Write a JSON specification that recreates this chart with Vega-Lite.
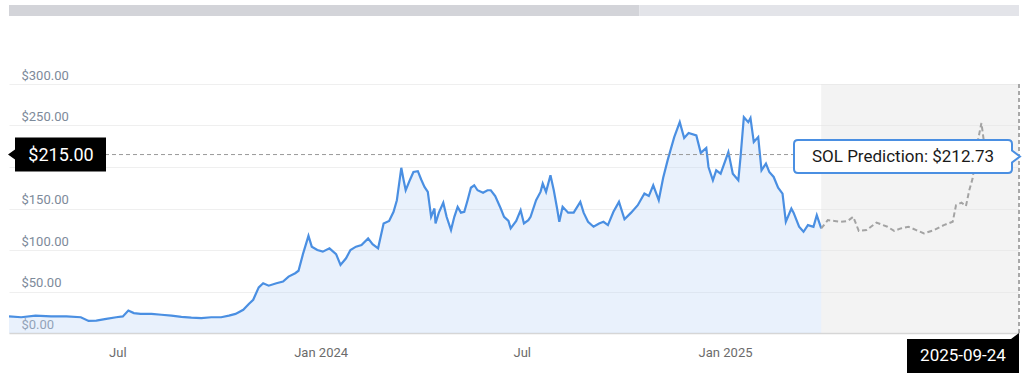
{
  "$schema": "https://vega.github.io/schema/vega-lite/v6.json",
  "usermeta": {"embedOptions": {"actions": false}},
  "padding": {"left": 4, "top": 5, "right": 0, "bottom": 0},
  "background": "white",
  "config": {"view": {"stroke": null}, "font": "Roboto"},
  "bounds": "flush",
  "spacing": 68,
  "datasets": {
    "nav": [
      {"part": "window", "from": 0, "to": 0.624},
      {"part": "rest", "from": 0.624, "to": 1}
    ],
    "hist": [
      {"date":"2023-03-25","price":20},{"date":"2023-04-05","price":19},{"date":"2023-04-18","price":21},{"date":"2023-05-02","price":20},
      {"date":"2023-05-16","price":20},{"date":"2023-05-29","price":19},{"date":"2023-06-05","price":14.5},{"date":"2023-06-12","price":15},
      {"date":"2023-06-21","price":17},{"date":"2023-06-30","price":19},{"date":"2023-07-06","price":20},{"date":"2023-07-11","price":27},
      {"date":"2023-07-16","price":24},{"date":"2023-07-22","price":23},{"date":"2023-08-01","price":23},{"date":"2023-08-10","price":22},
      {"date":"2023-08-19","price":21},{"date":"2023-08-28","price":19.5},{"date":"2023-09-06","price":18.5},{"date":"2023-09-15","price":18},
      {"date":"2023-09-24","price":19},{"date":"2023-10-03","price":19},{"date":"2023-10-10","price":21},{"date":"2023-10-16","price":23},
      {"date":"2023-10-23","price":28},{"date":"2023-10-28","price":35},{"date":"2023-11-01","price":40},{"date":"2023-11-06","price":55},
      {"date":"2023-11-10","price":60},{"date":"2023-11-15","price":57},{"date":"2023-11-22","price":60},{"date":"2023-11-28","price":62},
      {"date":"2023-12-03","price":68},{"date":"2023-12-09","price":72},{"date":"2023-12-12","price":75},{"date":"2023-12-16","price":95},
      {"date":"2023-12-21","price":117},{"date":"2023-12-24","price":104},{"date":"2023-12-29","price":100},{"date":"2024-01-03","price":98},
      {"date":"2024-01-09","price":102},{"date":"2024-01-15","price":95},{"date":"2024-01-19","price":82},{"date":"2024-01-24","price":90},
      {"date":"2024-01-28","price":100},{"date":"2024-02-02","price":104},{"date":"2024-02-07","price":106},{"date":"2024-02-13","price":114},
      {"date":"2024-02-17","price":107},{"date":"2024-02-22","price":102},{"date":"2024-02-27","price":132},{"date":"2024-03-03","price":135},
      {"date":"2024-03-07","price":146},{"date":"2024-03-10","price":160},{"date":"2024-03-14","price":199},{"date":"2024-03-16","price":185},
      {"date":"2024-03-18","price":172},{"date":"2024-03-22","price":185},{"date":"2024-03-25","price":194},{"date":"2024-03-29","price":195},
      {"date":"2024-04-01","price":185},{"date":"2024-04-04","price":176},{"date":"2024-04-07","price":170},{"date":"2024-04-10","price":140},
      {"date":"2024-04-13","price":150},{"date":"2024-04-14","price":132},{"date":"2024-04-17","price":145},{"date":"2024-04-21","price":157},
      {"date":"2024-04-24","price":140},{"date":"2024-04-28","price":124},{"date":"2024-05-01","price":140},{"date":"2024-05-04","price":152},
      {"date":"2024-05-07","price":145},{"date":"2024-05-10","price":146},{"date":"2024-05-13","price":160},{"date":"2024-05-16","price":175},
      {"date":"2024-05-19","price":178},{"date":"2024-05-22","price":172},{"date":"2024-05-27","price":169},{"date":"2024-05-31","price":172},
      {"date":"2024-06-03","price":172},{"date":"2024-06-07","price":165},{"date":"2024-06-10","price":156},{"date":"2024-06-12","price":150},
      {"date":"2024-06-15","price":140},{"date":"2024-06-19","price":135},{"date":"2024-06-21","price":126},{"date":"2024-06-26","price":135},
      {"date":"2024-06-30","price":148},{"date":"2024-07-03","price":132},{"date":"2024-07-07","price":136},{"date":"2024-07-09","price":140},
      {"date":"2024-07-14","price":160},{"date":"2024-07-18","price":170},{"date":"2024-07-20","price":180},{"date":"2024-07-23","price":170},
      {"date":"2024-07-27","price":190},{"date":"2024-07-30","price":172},{"date":"2024-08-02","price":150},{"date":"2024-08-04","price":134},
      {"date":"2024-08-07","price":152},{"date":"2024-08-12","price":145},{"date":"2024-08-17","price":145},{"date":"2024-08-23","price":158},
      {"date":"2024-08-26","price":145},{"date":"2024-08-30","price":134},{"date":"2024-09-04","price":128},{"date":"2024-09-09","price":132},
      {"date":"2024-09-13","price":134},{"date":"2024-09-17","price":130},{"date":"2024-09-22","price":146},{"date":"2024-09-27","price":158},
      {"date":"2024-10-02","price":137},{"date":"2024-10-08","price":145},{"date":"2024-10-14","price":154},{"date":"2024-10-20","price":168},
      {"date":"2024-10-24","price":165},{"date":"2024-10-28","price":178},{"date":"2024-11-02","price":160},{"date":"2024-11-06","price":187},
      {"date":"2024-11-10","price":208},{"date":"2024-11-16","price":236},{"date":"2024-11-21","price":254},{"date":"2024-11-25","price":235},
      {"date":"2024-11-29","price":241},{"date":"2024-12-06","price":238},{"date":"2024-12-10","price":217},{"date":"2024-12-15","price":223},
      {"date":"2024-12-17","price":200},{"date":"2024-12-21","price":184},{"date":"2024-12-24","price":196},{"date":"2024-12-28","price":192},
      {"date":"2025-01-04","price":218},{"date":"2025-01-08","price":192},{"date":"2025-01-13","price":184},{"date":"2025-01-15","price":212},
      {"date":"2025-01-18","price":260},{"date":"2025-01-22","price":254},{"date":"2025-01-24","price":259},{"date":"2025-01-27","price":230},
      {"date":"2025-01-31","price":236},{"date":"2025-02-03","price":196},{"date":"2025-02-07","price":204},{"date":"2025-02-10","price":194},
      {"date":"2025-02-14","price":188},{"date":"2025-02-18","price":175},{"date":"2025-02-22","price":168},{"date":"2025-02-25","price":134},
      {"date":"2025-03-02","price":150},{"date":"2025-03-04","price":145},{"date":"2025-03-09","price":128},{"date":"2025-03-13","price":122},
      {"date":"2025-03-17","price":130},{"date":"2025-03-22","price":128},{"date":"2025-03-25","price":142},{"date":"2025-03-29","price":126}
    ],
    "pred": [
      {"date":"2025-03-29","price":126},{"date":"2025-04-04","price":136},{"date":"2025-04-10","price":135},{"date":"2025-04-16","price":134},
      {"date":"2025-04-22","price":135},{"date":"2025-04-27","price":140},{"date":"2025-05-02","price":123},{"date":"2025-05-09","price":124},
      {"date":"2025-05-18","price":133},{"date":"2025-05-28","price":128},{"date":"2025-06-03","price":123},{"date":"2025-06-09","price":126},
      {"date":"2025-06-16","price":128},{"date":"2025-06-23","price":124},{"date":"2025-06-30","price":120},{"date":"2025-07-09","price":124},
      {"date":"2025-07-18","price":130},{"date":"2025-07-26","price":134},{"date":"2025-07-29","price":154},{"date":"2025-08-03","price":157},
      {"date":"2025-08-07","price":153},{"date":"2025-08-10","price":172},{"date":"2025-08-13","price":186},{"date":"2025-08-18","price":233},
      {"date":"2025-08-21","price":253},{"date":"2025-08-23","price":233},{"date":"2025-08-30","price":225},{"date":"2025-09-08","price":218},
      {"date":"2025-09-17","price":214},{"date":"2025-09-24","price":212.73}
    ],
    "period": [
      {"start": "2025-03-29", "end": "2025-09-24"}
    ],
    "annot": [
      {"kind": "yLabel", "date": "2023-03-25", "price": 215, "label": "$215.00"},
      {"kind": "tooltip", "date": "2025-09-24", "price": 212.73, "label": "SOL Prediction: $212.73"},
      {"kind": "xLabel", "date": "2025-09-24", "price": 0, "label": "2025-09-24"}
    ]
  },
  "vconcat": [
    {
      "width": 1010,
      "height": 11,
      "data": {"name": "nav"},
      "mark": {"type": "rect"},
      "encoding": {
        "x": {"field": "from", "type": "quantitative", "scale": {"domain": [0, 1]}, "axis": null},
        "x2": {"field": "to"},
        "color": {"field": "part", "type": "nominal", "scale": {"domain": ["window", "rest"], "range": ["#d3d4d9", "#e3e4e9"]}, "legend": null}
      }
    },
    {
      "width": 1010,
      "height": 249,
      "encoding": {
        "x": {
          "field": "date", "type": "temporal", "title": null,
          "scale": {"type": "utc", "domain": [{"year": 2023, "month": 3, "date": 25, "utc": true}, {"year": 2025, "month": 9, "date": 24, "utc": true}]},
          "axis": {
            "values": [{"year": 2023, "month": 7, "date": 1, "utc": true}, {"year": 2024, "month": 1, "date": 1, "utc": true}, {"year": 2024, "month": 7, "date": 1, "utc": true}, {"year": 2025, "month": 1, "date": 1, "utc": true}],
            "labelExpr": "utcFormat(datum.value, utcmonth(datum.value) == 0 ? '%b %Y' : '%b')",
            "grid": false, "ticks": false, "tickSize": 0, "domain": true, "domainColor": "#d6d6d6", "domainWidth": 1.5,
            "labelFont": "Roboto", "labelFontSize": 13, "labelColor": "#6b6b6b", "labelPadding": 13, "labelBaseline": "top", "labelFlush": false, "labelOverlap": false
          }
        },
        "y": {
          "field": "price", "type": "quantitative", "title": null,
          "scale": {"domain": [0, 300], "nice": false, "zero": true},
          "axis": {
            "values": [0, 50, 100, 150, 200, 250, 300],
            "labelExpr": "datum.value == 200 ? '' : format(datum.value, '$.2f')",
            "grid": true, "gridColor": "#efefef", "gridWidth": 1,
            "domain": false, "ticks": false, "tickSize": 0,
            "labelAlign": "left", "labelBaseline": "alphabetic", "labelPadding": -12, "labelOffset": -5,
            "labelFont": "Roboto", "labelFontSize": 13, "labelColor": "#7d8a9a"
          }
        }
      },
      "layer": [
        {
          "data": {"name": "period"},
          "mark": {"type": "rect", "color": "#e2e2e2", "opacity": 0.42},
          "encoding": {
            "x": {"field": "start", "type": "temporal"},
            "x2": {"field": "end"},
            "y": null
          }
        },
        {
          "data": {"name": "hist"},
          "mark": {"type": "area", "color": "#bcd3f5", "opacity": 0.33}
        },
        {
          "data": {"name": "hist"},
          "mark": {"type": "line", "color": "#4a8fe2", "strokeWidth": 2.2}
        },
        {
          "data": {"name": "pred"},
          "mark": {"type": "line", "color": "#a3a3a3", "strokeWidth": 2, "strokeDash": [5, 3]}
        },
        {
          "data": {"name": "annot"},
          "transform": [{"filter": "datum.kind == 'yLabel'"}],
          "mark": {"type": "rule", "color": "#9a9a9a", "strokeWidth": 1, "strokeDash": [4, 3]},
          "encoding": {"x": null, "y": {"field": "price", "type": "quantitative"}}
        },
        {
          "data": {"name": "annot"},
          "transform": [{"filter": "datum.kind == 'tooltip'"}],
          "mark": {"type": "rule", "color": "#a8a8a8", "strokeWidth": 2, "strokeDash": [4, 3]},
          "encoding": {"y": null, "x": {"field": "date", "type": "temporal"}}
        },
        {
          "data": {"name": "annot"},
          "transform": [{"filter": "datum.kind == 'yLabel'"}],
          "mark": {"type": "point", "filled": true, "color": "#000000", "opacity": 1, "size": 4, "strokeWidth": 0,
            "shape": "M-1,0 L6,-5 L6,-17 L97,-17 L97,17 L6,17 L6,5 Z"}
        },
        {
          "data": {"name": "annot"},
          "transform": [{"filter": "datum.kind == 'yLabel'"}],
          "mark": {"type": "text", "color": "#ffffff", "font": "Roboto", "fontSize": 18, "align": "center", "baseline": "middle", "dx": 52, "dy": 1},
          "encoding": {"text": {"field": "label"}}
        },
        {
          "data": {"name": "annot"},
          "transform": [{"filter": "datum.kind == 'tooltip'"}],
          "mark": {"type": "point", "filled": true, "fill": "#ffffff", "fillOpacity": 1, "stroke": "#4a8fe2", "strokeWidth": 2, "opacity": 1, "size": 4,
            "shape": "M1,0 L-7,-6 L-7,-12.5 Q-7,-16.5 -11,-16.5 L-221,-16.5 Q-225,-16.5 -225,-12.5 L-225,12.5 Q-225,16.5 -221,16.5 L-11,16.5 Q-7,16.5 -7,12.5 L-7,6 Z"}
        },
        {
          "data": {"name": "annot"},
          "transform": [{"filter": "datum.kind == 'tooltip'"}],
          "mark": {"type": "text", "color": "#1a1a1a", "font": "Roboto", "fontSize": 17, "align": "center", "baseline": "middle", "dx": -116, "dy": 1},
          "encoding": {"text": {"field": "label"}}
        },
        {
          "data": {"name": "annot"},
          "transform": [{"filter": "datum.kind == 'xLabel'"}],
          "mark": {"type": "point", "filled": true, "color": "#000000", "opacity": 1, "size": 4, "strokeWidth": 0,
            "shape": "M0,0 L0,40 L-112,40 L-112,6 L-8,6 Z"}
        },
        {
          "data": {"name": "annot"},
          "transform": [{"filter": "datum.kind == 'xLabel'"}],
          "mark": {"type": "text", "color": "#ffffff", "font": "Roboto", "fontSize": 17, "align": "center", "baseline": "middle", "dx": -56, "dy": 23},
          "encoding": {"text": {"field": "label"}}
        }
      ]
    }
  ]
}
